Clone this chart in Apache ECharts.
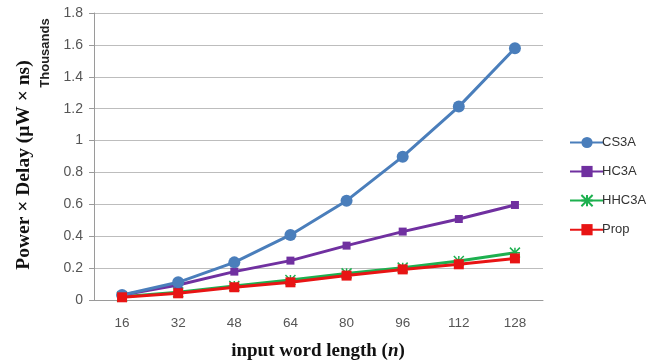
<!DOCTYPE html>
<html><head><meta charset="utf-8">
<script src="https://cdn.jsdelivr.net/npm/echarts@6/dist/echarts.min.js"></script>
<style>html,body{margin:0;padding:0;background:#fff}#c{width:663px;height:362px}</style>
</head><body><div id="c"></div>
<script>
const categories = ['16','32','48','64','80','96','112','128'];
const cs3a  = [0.031,0.111,0.236,0.408,0.623,0.899,1.213,1.579];
const hc3a  = [0.031,0.094,0.178,0.247,0.341,0.429,0.508,0.596];
const hhc3a = [0.021,0.048,0.088,0.125,0.167,0.203,0.245,0.297];
const prop  = [0.017,0.042,0.080,0.111,0.153,0.192,0.224,0.261];
const yTicks = [0,0.2,0.4,0.6,0.8,1,1.2,1.4,1.6,1.8];

const chart = echarts.init(document.getElementById('c'));
const star = 'path://M0,0L10,10M10,0L0,10M5,0L5,10M0,5L10,5';
const serif = 'Liberation Serif, Times New Roman, serif';
function ser(name, data, color, symbol, size, extra) {
  return Object.assign({
    name, type:'line', data, symbol, symbolSize:size,
    lineStyle:{color, width:3},
    itemStyle:{color},
    z: 2
  }, extra||{});
}
chart.setOption({
  animation:false,
  grid:{left:94, right:120, top:13, bottom:62, containLabel:false, outerBoundsMode:'none'},
  legend:{
    orient:'vertical', left:564, top:131, itemGap:16,
    itemWidth:34, itemHeight:14,
    textStyle:{fontFamily:'Liberation Sans, Arial, sans-serif', fontSize:13, color:'#333', padding:[0,0,0,-7]},
    data:['CS3A','HC3A','HHC3A','Prop']
  },
  xAxis:{
    type:'category', data:categories, boundaryGap:true,
    axisLine:{lineStyle:{color:'#9a9a9a', width:1}},
    axisTick:{show:false},
    axisLabel:{color:'#555', fontSize:13.5, fontFamily:'Liberation Sans, Arial, sans-serif', margin:16}
  },
  yAxis:{
    type:'value', min:0, max:1.8, interval:0.2,
    axisLine:{show:true, lineStyle:{color:'#9a9a9a'}},
    axisTick:{show:true, length:5, lineStyle:{color:'#9a9a9a'}},
    splitLine:{lineStyle:{color:'#bdbdbd', width:1.2}},
    axisLabel:{color:'#555', fontSize:14, fontFamily:'Liberation Sans, Arial, sans-serif', margin:11,
      formatter:v=>{const t=yTicks.find(x=>Math.abs(x-v)<1e-6);return t===undefined?'':String(t);}}
  },
  graphic:[{
    type:'text', x:24, y:165, rotation:Math.PI/2,
    style:{text:'Power × Delay (μW × ns)', fontSize:19.5, fontWeight:'bold', fontFamily:serif, fill:'#111', align:'center', verticalAlign:'middle'}
  },{
    type:'text', x:45, y:53, rotation:Math.PI/2,
    style:{text:'Thousands', fontSize:13, fontWeight:'bold', fontFamily:'Liberation Sans, Arial, sans-serif', fill:'#222', align:'center', verticalAlign:'middle'}
  },{
    type:'text', x:318, y:351,
    style:{text:'input word length ({i|n})', fontSize:19, fontWeight:'bold', fontFamily:serif, fill:'#111', align:'center', verticalAlign:'middle',
      rich:{i:{fontStyle:'italic', fontWeight:'bold', fontSize:19, fontFamily:serif, fill:'#111'}}}
  }],
  series:[
    ser('CS3A', cs3a, '#4a7ebb', 'circle', 12, {z:4}),
    ser('HC3A', hc3a, '#7030a0', 'rect', 8, {z:3}),
    ser('HHC3A', hhc3a, '#1db04f', star, 10, {itemStyle:{color:'#1db04f', borderColor:'#1db04f', borderWidth:1.5}}),
    ser('Prop', prop, '#e81414', 'rect', 10, {z:5})
  ]
});
</script></body></html>
